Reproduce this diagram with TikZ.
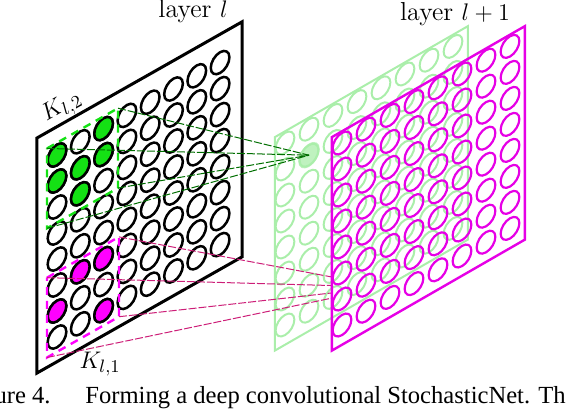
\documentclass[tikz,border=0pt]{standalone}
\usepackage{fontspec}
\newfontfamily\capfont{Liberation Serif}
\usetikzlibrary{calc}
\definecolor{ktwo}{RGB}{20,225,20}
\definecolor{kone}{RGB}{255,0,255}
\definecolor{nextl}{RGB}{230,0,230}
\definecolor{ghost}{RGB}{170,238,170}
\definecolor{wiretwo}{RGB}{0,110,0}
\definecolor{wireone}{RGB}{205,30,120}
\tikzset{
  panel/.style={line width=1.5pt, line join=miter},
  unit/.style={line width=1.25pt},
  kbox/.style={line width=1.2pt, dash pattern=on 4pt off 3pt},
  wire/.style={line width=0.5pt, dash pattern=on 4pt off 1pt},
  lab/.style={font=\fontsize{13}{15}\selectfont, inner sep=0pt},
  caption/.style={font=\capfont\fontsize{12.3}{14}\selectfont, inner sep=0pt},
}
\begin{document}
\begin{tikzpicture}[x=0.5pt, y=-0.5pt]
  \useasboundingbox (0,0) rectangle (566,412);
  \clip (0,0) rectangle (566,412);

  % layer l
  \begin{scope}[shift={(57,155)}, x={(11.65pt,6.6pt)}, y={(0pt,-13pt)}]
    \draw[panel] (-0.86,-1.09) -- (7.94,-1.09) -- (7.94,7.95) -- (-0.86,7.95) -- cycle;
    \foreach \c in {0,...,7}
      \foreach \r in {0,...,7}
        \draw[unit] (\c,\r) circle (0.4);
    \foreach \c/\r in {0/0,0/1,1/1,1/2,2/0,2/1}
      \filldraw[unit, fill=ktwo] (\c,\r) circle (0.4);
    \foreach \c/\r in {0/6,1/5,2/5,2/7}
      \filldraw[unit, fill=kone] (\c,\r) circle (0.4);
    % kernels
    \coordinate (g1) at (-0.43,-0.47);
    \coordinate (g2) at (2.62,-0.47);
    \coordinate (g3) at (2.62,2.6);
    \coordinate (g4) at (-0.43,2.6);
    \coordinate (m1) at (-0.43,4.5);
    \coordinate (m2) at (2.66,4.5);
    \coordinate (m3) at (2.66,7.57);
    \coordinate (m4) at (-0.43,7.57);
    \draw[kbox, ktwo] (g1) -- (g2) -- (g3) -- (g4) -- cycle;
    \draw[kbox, kone] (m1) -- (m2) -- (m3) -- (m4) -- cycle;
    \node[lab, rotate=29.5] (k2) at (0.22,-1.72) {$K_{l,2}$};
    \node[lab] (k1) at (1.85,8.98) {$K_{l,1}$};
  \end{scope}

  % layer l+1, first map (behind)
  \begin{scope}[shift={(285,143)}, x={(12pt,6.9pt)}, y={(0pt,-13pt)}]
    \draw[panel, ghost, line width=1pt] (-0.42,-0.45) -- (7.62,-0.45) -- (7.62,7.76) -- (-0.42,7.76) -- cycle;
    \fill[ghost!75] (1,1) circle (0.45);
    \foreach \c in {0,...,7}
      \foreach \r in {0,...,7}
        \draw[unit, ghost, line width=1pt] (\c,\r) circle (0.39);
    \coordinate (t2) at (1,1);
  \end{scope}
  \coordinate (t1) at (385,287);

  % connections
  \foreach \p in {g1,g2,g3,g4}
    \draw[wire, wiretwo] (\p) -- (t2);
  \begin{scope}
    \clip (0,0) rectangle (332,412);
    \foreach \p in {m1,m2,m3,m4}
      \draw[wire, wireone] (\p) -- (t1);
  \end{scope}

  % layer l+1, second map
  \begin{scope}[shift={(342,143)}, x={(12pt,6.9pt)}, y={(0pt,-13pt)}]
    \draw[panel, nextl, line width=1.2pt] (-0.42,-0.45) -- (7.62,-0.45) -- (7.62,7.76) -- (-0.42,7.76) -- cycle;
    \foreach \c in {0,...,7}
      \foreach \r in {0,...,7}
        \draw[unit, nextl, line width=1.1pt] (\c,\r) circle (0.39);
  \end{scope}

  \node[lab, anchor=base] (ll) at (193,18) {layer $l$};
  \node[lab, anchor=base] (ln) at (455,20) {layer $l+1$};
  \node[caption, anchor=base east] (fig) at (51,403) {Figure 4.};
  \node[caption, anchor=base west] (cap) at (85,403) {Forming a deep convolutional StochasticNet. The};
\end{tikzpicture}
\end{document}
